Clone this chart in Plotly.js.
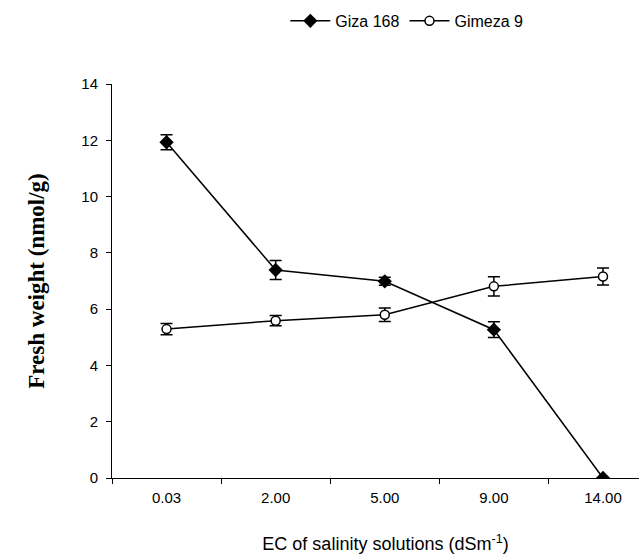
<!DOCTYPE html>
<html>
<head>
<meta charset="utf-8">
<script src="https://cdn.plot.ly/plotly-3.0.1.min.js"></script>
<style>html,body{margin:0;padding:0;background:#fff;}#chart{width:639px;height:556px;}</style>
</head>
<body>
<div id="chart"></div>
<script>
const categories = ["0.03", "2.00", "5.00", "9.00", "14.00"];
const gizaValues = [11.93, 7.39, 6.99, 5.27, 0.0];
const gizaErrors = [0.27, 0.34, 0.14, 0.28, 0.0];
const gimezaValues = [5.29, 5.59, 5.80, 6.81, 7.16];
const gimezaErrors = [0.2, 0.18, 0.24, 0.34, 0.3];
const yTicks = [0, 2, 4, 6, 8, 10, 12, 14];

const traces = [
  {
    x: categories, y: gizaValues, name: "Giza 168", type: "scatter", mode: "lines+markers",
    line: {color: "#000", width: 1.5},
    marker: {symbol: "diamond", size: 11, color: "#000"},
    error_y: {type: "data", array: gizaErrors, visible: true, color: "#000", thickness: 1.5, width: 6}
  },
  {
    x: categories, y: gimezaValues, name: "Gimeza 9", type: "scatter", mode: "lines+markers",
    line: {color: "#000", width: 1.5},
    marker: {symbol: "circle", size: 9, color: "#fff", line: {color: "#000", width: 1.5}},
    error_y: {type: "data", array: gimezaErrors, visible: true, color: "#000", thickness: 1.5, width: 6}
  }
];

const layout = {
  width: 639, height: 556,
  margin: {l: 112, r: 0, t: 84, b: 78},
  paper_bgcolor: "#fff", plot_bgcolor: "#fff",
  font: {family: "Liberation Sans, Arial, sans-serif", color: "#000", size: 15},
  showlegend: true,
  legend: {orientation: "h", x: 0.79, xanchor: "right", y: 1.16, yanchor: "middle",
           font: {size: 16}, itemwidth: 40, tracegroupgap: 0},
  xaxis: {
    type: "category", range: [-0.5, 4.33], tickson: "boundaries",
    showline: true, linecolor: "#000", linewidth: 1, ticks: "outside", ticklen: 5, tickcolor: "#000",
    showgrid: false, zeroline: false, fixedrange: true, ticklabelstandoff: 6,
    tickfont: {size: 15},
    title: {text: "&nbsp;&nbsp;&nbsp;&nbsp;EC of salinity solutions (dSm<sup>-1</sup>)", font: {size: 18}, standoff: 32}
  },
  yaxis: {
    range: [0, 14], tickvals: yTicks, showline: true, linecolor: "#000", linewidth: 1,
    ticks: "outside", ticklen: 5, tickcolor: "#000", showgrid: false, zeroline: false,
    ticklabelstandoff: 5, tickfont: {size: 15},
    title: {text: "<b>Fresh weight (nmol/g)</b>", font: {family: "Liberation Serif, Times New Roman, serif", size: 23}, standoff: 30}
  }
};

Plotly.newPlot("chart", traces, layout, {displayModeBar: false, staticPlot: true});
</script>
</body>
</html>
